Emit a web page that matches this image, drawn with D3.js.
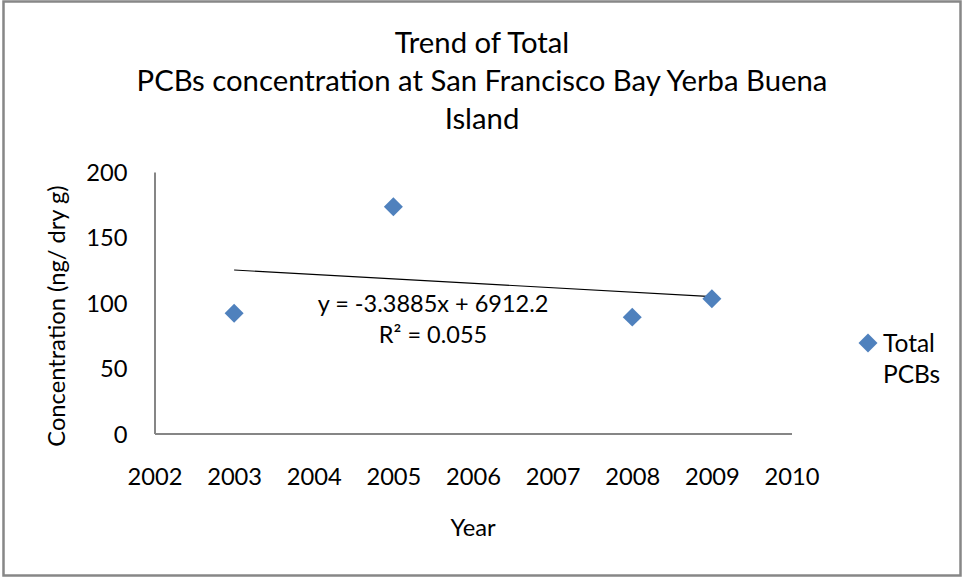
<!DOCTYPE html>
<html>
<head>
<meta charset="utf-8">
<script src="https://cdn.jsdelivr.net/npm/d3@7"></script>
<style>
  html, body { margin: 0; padding: 0; background: #fff; }
  svg { display: block; }
  text { font-family: Lato, "Open Sans", sans-serif; fill: #000; }
</style>
</head>
<body>
<svg id="chart" width="963" height="577"></svg>
<script>
// ---- data ----
const years = [2003, 2005, 2008, 2009];
const totalPCBs = [92, 173.5, 89, 103];
const xTicks = [2002, 2003, 2004, 2005, 2006, 2007, 2008, 2009, 2010];
const yTicks = [0, 50, 100, 150, 200];
const trendSlope = -3.3885;
const trendIntercept = 6912.2;
const trendRange = [2003, 2009];
const titleLines = ["Trend of Total", "PCBs concentration at San Francisco Bay Yerba Buena", "Island"];
const equationLines = ["y = -3.3885x + 6912.2", "R² = 0.055"];
const seriesName = ["Total", "PCBs"];

const svg = d3.select("#chart");
const W = 963, H = 577;

// outer border
svg.append("rect").attr("x", 3.5).attr("y", 1.5).attr("width", W - 6).attr("height", H - 3)
  .attr("fill", "#fff").attr("stroke", "#878787").attr("stroke-width", 2.5);

const x = d3.scaleLinear().domain([2002, 2010]).range([154.5, 791.5]);
const y = d3.scaleLinear().domain([0, 200]).range([433.5, 172]);

// title
svg.append("g").selectAll("text").data(titleLines).join("text")
  .attr("x", 482).attr("y", (d, i) => 53 + i * 38)
  .attr("text-anchor", "middle").style("font-size", "29.3px").text(d => d);

// axes
const yAxis = svg.append("g").attr("transform", `translate(${x(2002)},0)`)
  .call(d3.axisLeft(y).tickValues(yTicks).tickSize(0).tickPadding(27).tickFormat(d3.format("d")));
const xAxis = svg.append("g").attr("transform", `translate(0,${y(0)})`)
  .call(d3.axisBottom(x).tickValues(xTicks).tickSize(0).tickPadding(36).tickFormat(d3.format("d")));
[yAxis, xAxis].forEach(g => {
  g.select(".domain").attr("stroke", "#868686").attr("stroke-width", 2);
  g.selectAll("text").style("font-size", "23.7px").style("font-family", "Lato, sans-serif").attr("fill", "#000");
});
xAxis.selectAll("text").attr("dy", "0").attr("y", 51.5);
yAxis.selectAll("text").attr("dy", "0.36em");

// axis titles
svg.append("text").attr("transform", "translate(65,316) rotate(-90)")
  .attr("text-anchor", "middle").style("font-size", "23.7px").text("Concentration (ng/ dry g)");
svg.append("text").attr("x", 473).attr("y", 536)
  .attr("text-anchor", "middle").style("font-size", "23.7px").text("Year");

// trend line
svg.append("line")
  .attr("x1", x(trendRange[0])).attr("y1", y(trendSlope * trendRange[0] + trendIntercept))
  .attr("x2", x(trendRange[1])).attr("y2", y(trendSlope * trendRange[1] + trendIntercept))
  .attr("stroke", "#000").attr("stroke-width", 1.1);

// points
const diamond = d3.symbol().type(d3.symbolSquare).size(180);
svg.append("g").selectAll("path").data(years).join("path")
  .attr("d", diamond)
  .attr("transform", (d, i) => `translate(${x(d)},${y(totalPCBs[i])}) rotate(45)`)
  .attr("fill", "#4F81BD");

// equation
svg.append("g").selectAll("text").data(equationLines).join("text")
  .attr("x", 433).attr("y", (d, i) => 312 + i * 31)
  .attr("text-anchor", "middle").style("font-size", "23.5px").text(d => d);

// legend
svg.append("path").attr("d", diamond).attr("transform", "translate(868,343) rotate(45)").attr("fill", "#4F81BD");
svg.append("g").selectAll("text").data(seriesName).join("text")
  .attr("x", 883).attr("y", (d, i) => 352 + i * 31)
  .style("font-size", "24.5px").text(d => d);
</script>
</body>
</html>
